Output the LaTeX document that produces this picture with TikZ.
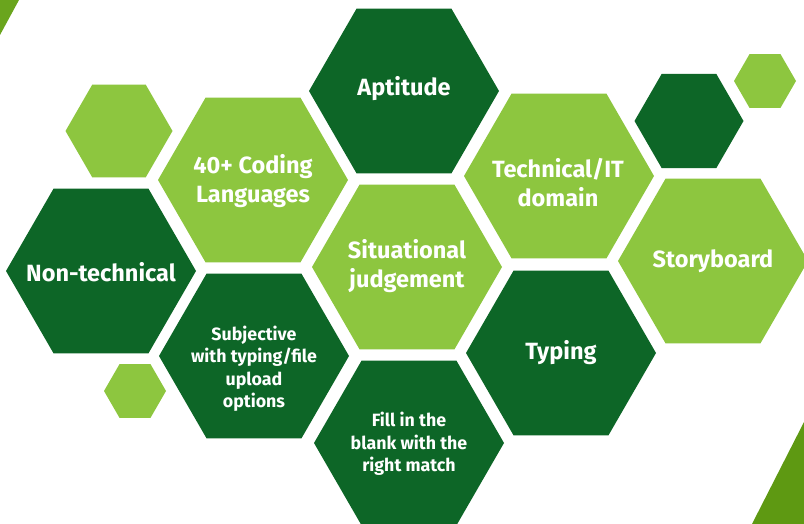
\documentclass[tikz,border=0pt]{standalone}
\usepackage{fontspec}
\setmainfont{Fira Sans}
\usetikzlibrary{shapes.geometric}
\definecolor{darkg}{HTML}{0D6627}
\definecolor{lightg}{HTML}{8DC63F}
\definecolor{cornerA}{HTML}{6AA51D}
\definecolor{cornerB}{HTML}{5E9912}
\begin{document}
\begin{tikzpicture}[x=1pt,y=-1pt,
  hexa/.style={regular polygon, regular polygon sides=6, inner sep=0pt, outer sep=0pt, draw=none},
  big/.style={hexa, minimum size=190pt},
  lbl/.style={text=white, font=\bfseries\fontsize{23.5}{29}\selectfont, align=center, inner sep=0pt},
  sml/.style={text=white, font=\bfseries\fontsize{17.8}{22.5}\selectfont, align=center, inner sep=0pt}]
\useasboundingbox (0,0) rectangle (804,524);
\fill[white] (0,0) rectangle (804,524);
% corner triangles
\fill[cornerA] (0,0) -- (19,0) -- (0,35) -- cycle;
\fill[cornerB] (804,422) -- (804,524) -- (752,524) -- cycle;
% small decorative hexagons
\node[hexa, minimum size=107pt, fill=lightg] (s1) at (119,131) {};
\node[hexa, minimum size=62pt, fill=lightg] (s2) at (135,391) {};
\node[hexa, minimum size=109pt, fill=darkg] (s3) at (689,121) {};
\node[hexa, minimum size=62pt, fill=lightg] (s4) at (765,81) {};
% big hexagons
\node[big, fill=darkg] (apt) at (404,91) {};
\node[big, fill=lightg] (cod) at (253,180) {};
\node[big, fill=darkg] (non) at (101,271) {};
\node[big, fill=darkg] (sub) at (254,356) {};
\node[big, fill=lightg] (sit) at (407,267) {};
\node[big, fill=darkg] (fil) at (409,443) {};
\node[big, fill=lightg] (tec) at (559,176) {};
\node[big, fill=darkg] (typ) at (561,353) {};
\node[big, fill=lightg] (sto) at (713,261) {};
% labels
\node[lbl] (taptt) at (404,89) {Aptitude};
\node[lbl] (tcod) at (253,181) {40+ Coding\\Languages};
\node[lbl] (tnon) at (101,272) {Non-technical};
\node[sml] (tsub) at (254,369) {Subjective\\with typing/file\\upload\\options};
\node[lbl] (tsit) at (407,266) {Situational\\judgement};
\node[sml] (tfil) at (409,444) {Fill in the\\blank with the\\right match};
\node[lbl] (ttec) at (558,183) {Technical/IT\\domain};
\node[lbl] (ttyp) at (561,353) {Typing};
\node[lbl] (tsto) at (713,261) {Storyboard};
\end{tikzpicture}
\end{document}
